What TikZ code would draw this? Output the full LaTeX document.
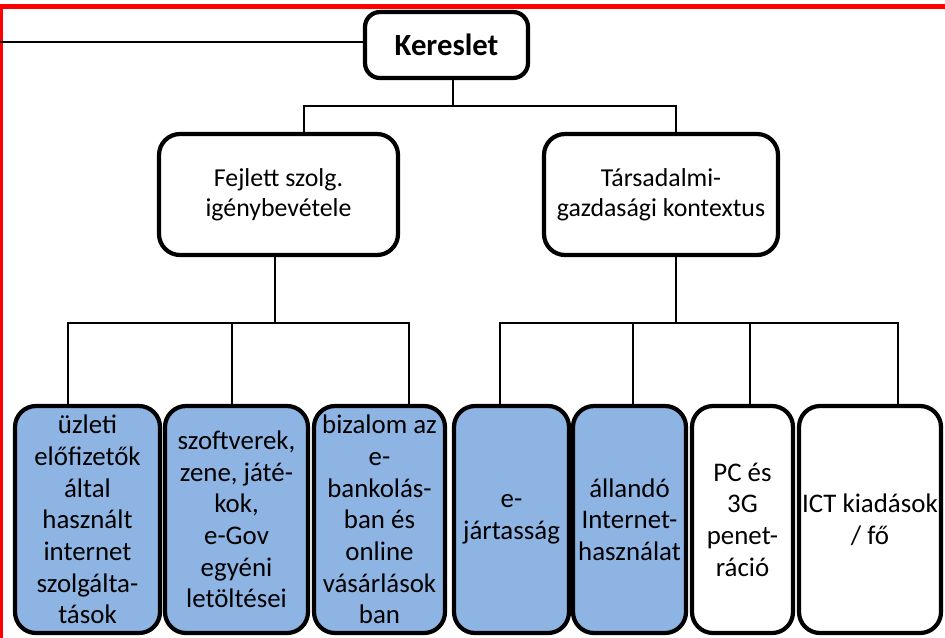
\documentclass[tikz,border=0pt]{standalone}
\usepackage{fontspec}
\setmainfont{Carlito}
\definecolor{leafblue}{HTML}{8EB4E3}
\definecolor{framered}{HTML}{FF0000}
\begin{document}
\begin{tikzpicture}[x=0.02cm,y=-0.02cm,
  box/.style={draw=black, line width=2.4pt, align=center, inner sep=0pt, fill=white},
  topbox/.style={box, rounded corners=0.3cm, font=\fontsize{17.5}{21}\selectfont\bfseries},
  midbox/.style={box, rounded corners=0.42cm, minimum height=121*0.02cm, font=\fontsize{14.7}{17}\selectfont},
  leaf/.style={box, rounded corners=0.42cm, minimum height=227*0.02cm, font=\fontsize{15.3}{18}\selectfont},
  bluefill/.style={fill=leafblue},
  conn/.style={draw=black, line width=1.1pt}]
\useasboundingbox (0,0) rectangle (945,637);
\clip (0,0) rectangle (945,637);

% frame
\draw[framered, line width=2.8pt] (950,6.5) -- (0.5,6.5) -- (0.5,645);

% nodes
\node[topbox, minimum width=163*0.02cm, minimum height=66*0.02cm] (k) at (446.5,45) {Kereslet};
\node[midbox, minimum width=239*0.02cm] (f) at (278.5,194.5) {Fejlett szolg.\\igénybevétele};
\node[midbox, minimum width=234*0.02cm] (t) at (661,194.5) {Társadalmi-\\gazdasági kontextus};

\node[leaf, bluefill, minimum width=145*0.02cm] (b1) at (87.5,519.5) {üzleti\\előfizetők\\által\\használt\\internet\\szolgálta-\\tások};
\node[leaf, bluefill, minimum width=143*0.02cm] (b2) at (236.5,519.5) {szoftverek,\\zene, játé-\\kok,\\e-Gov\\egyéni\\letöltései};
\node[leaf, bluefill, minimum width=131*0.02cm] (b3) at (379.5,519.5) {bizalom az\\e-\\bankolás-\\ban és\\online\\vásárlások\\ban};
\node[leaf, bluefill, minimum width=115*0.02cm] (b4) at (511.5,519.5) {e-\\jártasság};
\node[leaf, bluefill, minimum width=113*0.02cm] (b5) at (629.5,519.5) {állandó\\Internet-\\használat};
\node[leaf, minimum width=101*0.02cm] (b6) at (742.5,519.5) {PC és\\3G\\penet-\\ráció};
\node[leaf, minimum width=142*0.02cm] (b7) at (870,519.5) {ICT kiadások\\/ fő};

% connectors
\coordinate (lft) at (0,42);
\draw[conn, line width=1.2pt] (lft) -- (lft -| k.west);

\coordinate (j0) at (453,106);
\coordinate (ja) at (304,106);
\coordinate (jb) at (676,106);
\draw[conn] (k.south -| j0) -- (j0);
\draw[conn] (ja |- f.north) -- (ja) -- (jb) -- (jb |- t.north);

\coordinate (fl) at (275,323);
\coordinate (h1) at (68,323);
\coordinate (h2) at (232,323);
\coordinate (h3) at (409,323);
\draw[conn] (f.south -| fl) -- (fl);
\draw[conn] (h1 |- b1.north) -- (h1) -- (h3) -- (h3 |- b3.north);
\draw[conn] (h2) -- (h2 |- b2.north);

\coordinate (tr) at (676,323);
\coordinate (r1) at (500,323);
\coordinate (r2) at (633,323);
\coordinate (r3) at (750,323);
\coordinate (r4) at (898,323);
\draw[conn] (t.south -| tr) -- (tr);
\draw[conn] (r1 |- b4.north) -- (r1) -- (r4) -- (r4 |- b7.north);
\draw[conn] (r2) -- (r2 |- b5.north);
\draw[conn] (r3) -- (r3 |- b6.north);
\end{tikzpicture}
\end{document}
